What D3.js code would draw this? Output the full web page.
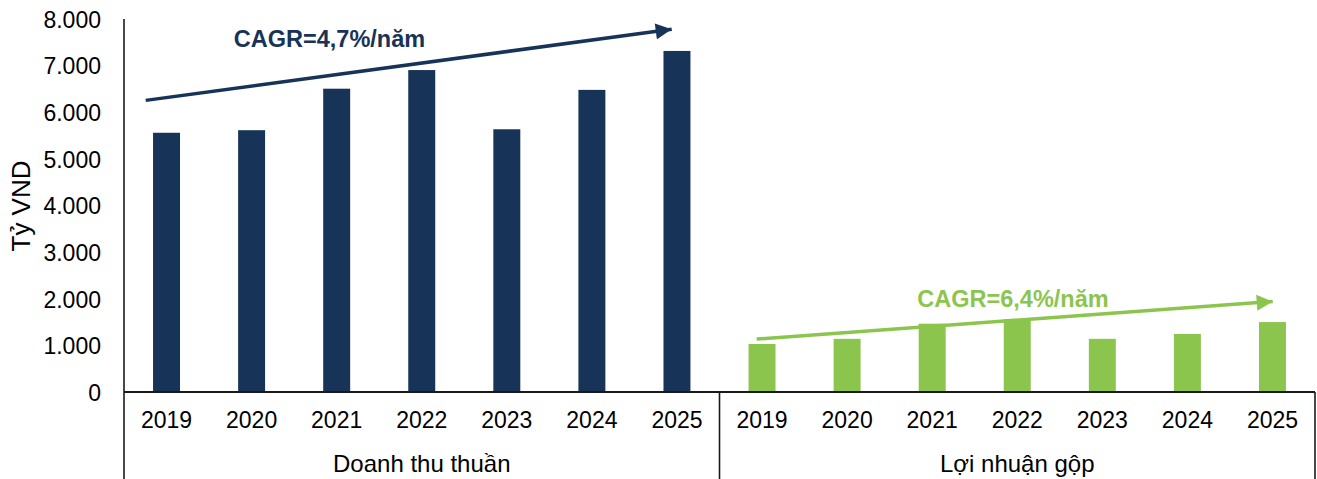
<!DOCTYPE html>
<html><head><meta charset="utf-8">
<script src="https://cdn.jsdelivr.net/npm/d3@7"></script>
<style>
body{margin:0;background:#fff}
text{font-family:"Liberation Sans",Arial,sans-serif;fill:#000}
</style>
</head><body>
<svg id="chart" width="1317" height="479"></svg>
<script>
// ---- data ----
const years = ["2019","2020","2021","2022","2023","2024","2025"];
const groups = ["Doanh thu thuần","Lợi nhuận gộp"];
const revenue = [5560,5615,6505,6905,5635,6480,7315];
const grossProfit = [1030,1140,1465,1560,1140,1245,1500];
const yTicks = [0,1000,2000,3000,4000,5000,6000,7000,8000];
const yLabel = "Tỷ VND";
const cagrLabels = ["CAGR=4,7%/năm","CAGR=6,4%/năm"];
const arrowStartValues = [6255,1135];
const arrowEndValues = [7780,1940];

// ---- layout ----
const W = 1317, H = 479;
const plotLeft = 124, plotRight = 1315, plotTop = 19, base = 392;
const colors = ["#173358","#8BC54E"];
const series = [revenue, grossProfit];

const svg = d3.select("#chart");
const keys = [];
groups.forEach((g,gi)=>years.forEach(yr=>keys.push(gi+"|"+yr)));
const x = d3.scaleBand().domain(keys).range([plotLeft,plotRight]).paddingInner(0.683).paddingOuter(0.3415);
const xs = d3.scaleBand().domain(keys).range([plotLeft,plotRight]).padding(0);
const step = xs.step();
const y = d3.scaleLinear().domain([0,8000]).range([base,plotTop]);

const defs = svg.append("defs");
colors.forEach((c,i)=>{
  defs.append("marker").attr("id","ah"+i).attr("viewBox","0 0 10 10")
    .attr("refX",10).attr("refY",5).attr("markerUnits","userSpaceOnUse")
    .attr("markerWidth",17).attr("markerHeight",16).attr("orient","auto")
    .append("path").attr("d","M0,0L10,5L0,10Z").attr("fill",c);
});

// bars
groups.forEach((g,gi)=>{
  svg.append("g").selectAll("rect").data(series[gi]).join("rect")
    .attr("x",(d,i)=>x(gi+"|"+years[i]))
    .attr("width",x.bandwidth())
    .attr("y",d=>y(d))
    .attr("height",d=>base-y(d))
    .attr("fill",colors[gi]);
});

// y axis
const yAxis = d3.axisLeft(y).tickValues(yTicks).tickSize(0).tickPadding(23)
  .tickFormat(d=>d3.format(",")(d).replace(/,/g,"."));
const ya = svg.append("g").attr("transform",`translate(${plotLeft},0)`).call(yAxis);
ya.select(".domain").remove();
ya.selectAll("text").style("font-size","23px").attr("fill","#000").attr("dy","0.36em");

svg.append("text").attr("transform",`translate(30,206) rotate(-90)`)
  .attr("text-anchor","middle").style("font-size","26px").text(yLabel);

// axis lines & category boxes
const lc = "#1a1a1a";
svg.append("line").attr("x1",plotLeft).attr("x2",plotLeft).attr("y1",plotTop).attr("y2",H).attr("stroke",lc).attr("stroke-width",1.6);
svg.append("line").attr("x1",plotLeft).attr("x2",plotRight).attr("y1",base).attr("y2",base).attr("stroke",lc).attr("stroke-width",2);
const sepX = xs("1|2019");
[sepX, plotRight].forEach(v=>{
  svg.append("line").attr("x1",v).attr("x2",v).attr("y1",base).attr("y2",H).attr("stroke",lc).attr("stroke-width",1.6);
});

// x labels
keys.forEach(k=>{
  svg.append("text").attr("x",xs(k)+step/2).attr("y",428).attr("text-anchor","middle")
    .style("font-size","23px").text(k.split("|")[1]);
});
groups.forEach((g,gi)=>{
  const x0 = xs(gi+"|2019"), x1 = xs(gi+"|2025")+step;
  svg.append("text").attr("x",(x0+x1)/2).attr("y",472).attr("text-anchor","middle")
    .style("font-size","24px").text(g);
});

// CAGR arrows
const arrowStartFrac = [0.255,0.437], arrowEndFrac = [6.438,6.503], labelFrac = [2.416,3.45];
const labelBase = [47,307];
groups.forEach((g,gi)=>{
  const g0 = xs(gi+"|2019");
  svg.append("line")
    .attr("x1",g0+arrowStartFrac[gi]*step).attr("y1",y(arrowStartValues[gi]))
    .attr("x2",g0+arrowEndFrac[gi]*step).attr("y2",y(arrowEndValues[gi]))
    .attr("stroke",colors[gi]).attr("stroke-width",3.5)
    .attr("marker-end",`url(#ah${gi})`);
  svg.append("text").attr("x",g0+labelFrac[gi]*step).attr("y",labelBase[gi])
    .attr("text-anchor","middle").style("font-size","23.5px").style("font-weight","bold")
    .style("fill",colors[gi]).text(cagrLabels[gi]);
});
</script>
</body></html>
